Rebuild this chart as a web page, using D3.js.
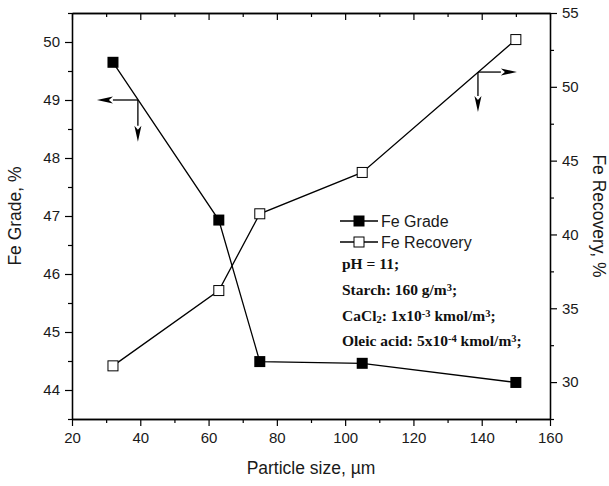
<!DOCTYPE html>
<html>
<head>
<meta charset="utf-8">
<script src="https://cdn.jsdelivr.net/npm/d3@7"></script>
<style>
  body { margin: 0; background: #fff; }
  svg { display: block; }
  .tick text { font-family: "Liberation Sans", Arial, sans-serif; font-size: 15px; fill: #1a1a1a; }
  .note { font-family: "Liberation Serif", "Times New Roman", serif; font-weight: bold; font-size: 15.5px; fill: #111; }
</style>
</head>
<body>
<svg id="chart" width="609" height="486"></svg>
<script>
// particle size, µm
var sizes = [32, 63, 75, 105, 150];
var feGrade = [49.65, 46.93, 44.49, 44.46, 44.13];
var feRecovery = [31.1, 36.2, 41.4, 44.2, 53.2];

var xTicks = [20, 40, 60, 80, 100, 120, 140, 160];
var xMinor = [30, 50, 70, 90, 110, 130, 150];
var gradeTicks = [44, 45, 46, 47, 48, 49, 50];
var gradeMinor = [43.5, 44.5, 45.5, 46.5, 47.5, 48.5, 49.5, 50.5];
var recTicks = [30, 35, 40, 45, 50, 55];
var recMinor = [27.5, 32.5, 37.5, 42.5, 47.5, 52.5];

var seriesNames = ["Fe Grade", "Fe Recovery"];
var notes = [
  [["pH = 11;", ""]],
  [["Starch: 160 g/m", ""], ["3", "sup"], [";", ""]],
  [["CaCl", ""], ["2", "sub"], [": 1x10", ""], ["-3", "sup"], [" kmol/m", ""], ["3", "sup"], [";", ""]],
  [["Oleic acid: 5x10", ""], ["-4", "sup"], [" kmol/m", ""], ["3", "sup"], [";", ""]]
];

// arrow annotations: [x at corner, y at corner, x end, y end]
var leftArrow = [39.3, 49, 27.3, 48.28];
var rightArrow = [138.9, 51.0, 150.3, 48.3];

var margin = {left: 72, right: 59, top: 13, bottom: 67};
var W = 609, H = 486;
var svg = d3.select("#chart");

var x = d3.scaleLinear().domain([20, 160]).range([margin.left, W - margin.right]);
var yL = d3.scaleLinear().domain([43.5, 50.5]).range([H - margin.bottom, margin.top]);
var yR = d3.scaleLinear().domain([27.5, 55]).range([H - margin.bottom, margin.top]);

function style(g) {
  g.selectAll("path.domain").attr("stroke", "#000").attr("stroke-width", 1.3);
  g.selectAll(".tick line").attr("stroke", "#000").attr("stroke-width", 1.2);
}

// bottom
svg.append("g").attr("transform", "translate(0," + (H - margin.bottom) + ")")
  .call(d3.axisBottom(x).tickValues(xMinor).tickSize(4).tickFormat("").tickSizeOuter(0)).call(style);
svg.append("g").attr("transform", "translate(0," + (H - margin.bottom) + ")")
  .call(d3.axisBottom(x).tickValues(xTicks).tickSize(7).tickPadding(6).tickSizeOuter(0)).call(style);
// top
svg.append("g").attr("transform", "translate(0," + margin.top + ")")
  .call(d3.axisTop(x).tickValues(xMinor).tickSize(-4).tickFormat("").tickSizeOuter(0)).call(style);
svg.append("g").attr("transform", "translate(0," + margin.top + ")")
  .call(d3.axisTop(x).tickValues(xTicks).tickSize(-7).tickFormat("").tickSizeOuter(0)).call(style);
// left
svg.append("g").attr("transform", "translate(" + margin.left + ",0)")
  .call(d3.axisLeft(yL).tickValues(gradeMinor).tickSize(4).tickFormat("").tickSizeOuter(0)).call(style);
svg.append("g").attr("transform", "translate(" + margin.left + ",0)")
  .call(d3.axisLeft(yL).tickValues(gradeTicks).tickSize(7).tickPadding(5).tickFormat(d3.format("d")).tickSizeOuter(0)).call(style);
// right
svg.append("g").attr("transform", "translate(" + (W - margin.right) + ",0)")
  .call(d3.axisRight(yR).tickValues(recMinor).tickSize(4).tickFormat("").tickSizeOuter(0)).call(style);
svg.append("g").attr("transform", "translate(" + (W - margin.right) + ",0)")
  .call(d3.axisRight(yR).tickValues(recTicks).tickSize(7).tickPadding(5).tickFormat(d3.format("d")).tickSizeOuter(0)).call(style);

// axis titles
var titleFont = "'Liberation Sans', Arial, sans-serif";
svg.append("text").attr("x", 311).attr("y", 474).attr("text-anchor", "middle")
  .style("font-family", titleFont).style("font-size", "17.5px").style("fill", "#1a1a1a")
  .text("Particle size, µm");
svg.append("text").attr("transform", "translate(21,216) rotate(-90)").attr("text-anchor", "middle")
  .style("font-family", titleFont).style("font-size", "17.5px").style("fill", "#1a1a1a")
  .text("Fe Grade, %");
svg.append("text").attr("transform", "translate(593,216) rotate(90)").attr("text-anchor", "middle")
  .style("font-family", titleFont).style("font-size", "17.5px").style("fill", "#1a1a1a")
  .text("Fe Recovery, %");

// lines
var gradeData = sizes.map(function(d, i) { return [d, feGrade[i]]; });
var recData = sizes.map(function(d, i) { return [d, feRecovery[i]]; });

svg.append("path").datum(gradeData)
  .attr("fill", "none").attr("stroke", "#000").attr("stroke-width", 1.3)
  .attr("d", d3.line().x(d => x(d[0])).y(d => yL(d[1])));
svg.append("path").datum(recData)
  .attr("fill", "none").attr("stroke", "#000").attr("stroke-width", 1.3)
  .attr("d", d3.line().x(d => x(d[0])).y(d => yR(d[1])));

var ms = 11;
svg.selectAll("rect.grade").data(gradeData).join("rect").classed("grade", true)
  .attr("x", d => x(d[0]) - ms / 2).attr("y", d => yL(d[1]) - ms / 2)
  .attr("width", ms).attr("height", ms).attr("fill", "#000");
svg.selectAll("rect.rec").data(recData).join("rect").classed("rec", true)
  .attr("x", d => x(d[0]) - ms / 2 + 0.5).attr("y", d => yR(d[1]) - ms / 2 + 0.5)
  .attr("width", ms - 1).attr("height", ms - 1).attr("fill", "#fff").attr("stroke", "#000").attr("stroke-width", 1);

// arrows
function arrow(x0, y0, x1, y1) {
  var len = Math.hypot(x1 - x0, y1 - y0), ux = (x1 - x0) / len, uy = (y1 - y0) / len;
  var hl = 16, hw = 3.5;
  var bx = x1 - ux * hl, by = y1 - uy * hl;
  svg.append("line").attr("x1", x0).attr("y1", y0).attr("x2", bx).attr("y2", by)
    .attr("stroke", "#000").attr("stroke-width", 1.3);
  svg.append("path").attr("fill", "#000")
    .attr("d", "M" + x1 + "," + y1 + "L" + (bx - uy * hw) + "," + (by + ux * hw) +
      "L" + (bx + ux * 4) + "," + (by + uy * 4) + "L" + (bx + uy * hw) + "," + (by - ux * hw) + "Z");
}
arrow(x(leftArrow[0]), yL(leftArrow[1]), x(leftArrow[2]), yL(leftArrow[1]));
arrow(x(leftArrow[0]), yL(leftArrow[1]), x(leftArrow[0]), yL(leftArrow[3]));
arrow(x(rightArrow[0]), yR(rightArrow[1]), x(rightArrow[2]), yR(rightArrow[1]));
arrow(x(rightArrow[0]), yR(rightArrow[1]), x(rightArrow[0]), yR(rightArrow[3]));

// legend
var lg = svg.append("g").attr("transform", "translate(340,221)");
seriesNames.forEach(function(name, i) {
  var g = lg.append("g").attr("transform", "translate(0," + (i * 21) + ")");
  g.append("line").attr("x1", 0).attr("x2", 38).attr("stroke", "#000").attr("stroke-width", 1.3);
  g.append("rect").attr("x", 19 - 5).attr("y", -5).attr("width", 10).attr("height", 10)
    .attr("fill", i === 0 ? "#000" : "#fff").attr("stroke", "#000").attr("stroke-width", 1);
  g.append("text").attr("x", 41).attr("y", 6)
    .style("font-family", titleFont).style("font-size", "16px").style("fill", "#1a1a1a")
    .text(name);
});

// conditions
notes.forEach(function(parts, i) {
  var t = svg.append("text").attr("class", "note").attr("x", 342).attr("y", 269 + i * 25.8);
  parts.forEach(function(p) {
    var sp = t.append("tspan").text(p[0]);
    if (p[1] === "sup") sp.attr("baseline-shift", "35%").style("font-size", "10.5px");
    if (p[1] === "sub") sp.attr("baseline-shift", "-15%").style("font-size", "10.5px");
  });
});
</script>
</body>
</html>
